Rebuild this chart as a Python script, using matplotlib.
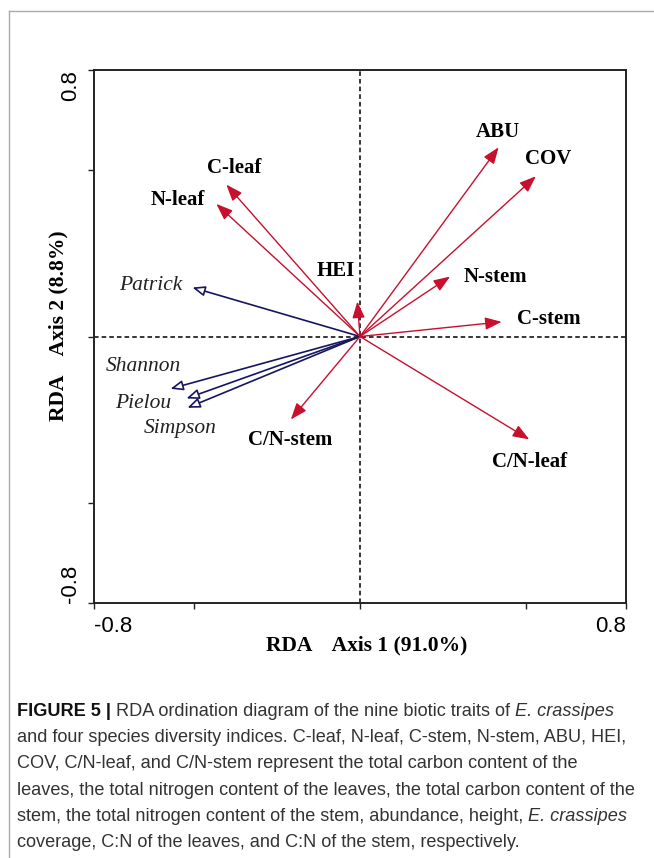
import numpy as np
import matplotlib
matplotlib.use('Agg')
from matplotlib import pyplot as plt
from matplotlib.lines import Line2D

# Biotic traits (response arrows, red)
traits = ['ABU', 'COV', 'C-leaf', 'N-leaf', 'HEI', 'N-stem', 'C-stem',
          'C/N-leaf', 'C/N-stem']
trait_ax1 = [0.417, 0.529, -0.402, -0.432, -0.008, 0.271, 0.426, 0.509, -0.208]
trait_ax2 = [0.568, 0.481, 0.456, 0.398, 0.105, 0.180, 0.044, -0.309, -0.249]

# Species diversity indices (explanatory arrows, blue)
indices = ['Patrick', 'Shannon', 'Pielou', 'Simpson']
index_ax1 = [-0.504, -0.570, -0.522, -0.519]
index_ax2 = [0.147, -0.157, -0.186, -0.214]

x_label = 'RDA    Axis 1 (91.0%)'
y_label = 'RDA    Axis 2 (8.8%)'

# label placement (layout only)
trait_label_pos = [(0.414, 0.615), (0.567, 0.534), (-0.377, 0.507),
                   (-0.549, 0.411), (-0.074, 0.197), (0.408, 0.179),
                   (0.567, 0.053), (0.510, -0.377), (-0.209, -0.311)]
index_label_pos = [(-0.630, 0.152), (-0.651, -0.089), (-0.651, -0.200),
                   (-0.542, -0.275)]

caption = [
    [('FIGURE 5 | ', 'normal', 'bold'),
     ('RDA ordination diagram of the nine biotic traits of ', 'normal', 'normal'),
     ('E. crassipes', 'italic', 'normal')],
    [('and four species diversity indices. C-leaf, N-leaf, C-stem, N-stem, ABU, HEI,', 'normal', 'normal')],
    [('COV, C/N-leaf, and C/N-stem represent the total carbon content of the', 'normal', 'normal')],
    [('leaves, the total nitrogen content of the leaves, the total carbon content of the', 'normal', 'normal')],
    [('stem, the total nitrogen content of the stem, abundance, height, ', 'normal', 'normal'),
     ('E. crassipes', 'italic', 'normal')],
    [('coverage, C:N of the leaves, and C:N of the stem, respectively.', 'normal', 'normal')],
]

W, H = 654, 858
red = '#C8102E'
navy = '#161660'
serif = ['Liberation Serif', 'DejaVu Serif']
sans = ['Liberation Sans', 'DejaVu Sans']

fig = plt.figure(figsize=(W / 100, H / 100), dpi=100)

# light grey frame of the figure panel (top and left edges)
fig.add_artist(Line2D([9 / W, 1], [1 - 11 / H, 1 - 11 / H], color='#aaaaaa', lw=1.0))
fig.add_artist(Line2D([9 / W, 9 / W], [0, 1 - 11 / H], color='#aaaaaa', lw=1.0))

ax = fig.add_axes([94 / W, 1 - 603 / H, 532 / W, 533 / H])
ax.set_xlim(-0.8, 0.8)
ax.set_ylim(-0.8, 0.8)
for s in ax.spines.values():
    s.set_linewidth(1.4)
    s.set_color('#222222')

ax.set_xticks([-0.8, -0.5, 0, 0.5, 0.8])
ax.set_yticks([-0.8, -0.5, 0, 0.5, 0.8])
ax.set_xticklabels([])
ax.set_yticklabels([])
ax.tick_params(direction='out', length=4, width=1.0, color='#222222')

# tick labels at the extremes only
ax.text(-0.8, -0.84, '-0.8', ha='left', va='top', fontsize=16, family=sans)
ax.text(0.8, -0.84, '0.8', ha='right', va='top', fontsize=16, family=sans)
ax.text(-0.84, 0.8, '0.8', ha='right', va='top', rotation=90, fontsize=16, family=sans)
ax.text(-0.84, -0.8, '-0.8', ha='right', va='bottom', rotation=90, fontsize=16, family=sans)

ax.axhline(0, color='black', lw=1.1, ls=(0, (3, 2)), zorder=1)
ax.axvline(0, color='black', lw=1.1, ls=(0, (3, 2)), zorder=1)

for name, x, y, (lx, ly) in zip(traits, trait_ax1, trait_ax2, trait_label_pos):
    ax.annotate('', xy=(x, y), xytext=(0, 0),
                arrowprops=dict(arrowstyle='-|>,head_length=1.0,head_width=0.38',
                                color=red, lw=1.0, shrinkA=0, shrinkB=0,
                                mutation_scale=10), zorder=3)
    ax.text(lx, ly, name, ha='center', va='center', fontsize=15,
            fontweight='bold', family=serif, color='black')

for name, x, y, (lx, ly) in zip(indices, index_ax1, index_ax2, index_label_pos):
    ax.annotate('', xy=(x, y), xytext=(0, 0),
                arrowprops=dict(arrowstyle='-|>,head_length=0.75,head_width=0.3',
                                ec=navy, fc='white', lw=1.2, shrinkA=0, shrinkB=0,
                                mutation_scale=10), zorder=2)
    ax.text(lx, ly, name, ha='center', va='center', fontsize=15.5,
            fontstyle='italic', family=serif, color='#222222')

fig.text(367 / W, 1 - 645 / H, x_label, ha='center', va='center', fontsize=15.5,
         fontweight='bold', family=serif)
fig.text(58 / W, 1 - 326 / H, y_label, ha='center', va='center', fontsize=15.5,
         fontweight='bold', family=serif, rotation=90)

# caption, drawn piece by piece so italic words sit inline;
# font size chosen so the widest line fits inside the panel
renderer = fig.canvas.get_renderer()
cap_size = 14
widest = 0
for line in caption:
    width = 0
    for txt, style, weight in line:
        t = fig.text(0, 0, txt, fontsize=cap_size, family=sans,
                     fontstyle=style, fontweight=weight)
        width += t.get_window_extent(renderer=renderer).width
        t.remove()
    widest = max(widest, width)
cap_size = cap_size * 622 / widest

line_y = 711
for line in caption:
    x0 = 17
    for txt, style, weight in line:
        t = fig.text(x0 / W, 1 - line_y / H, txt, ha='left', va='center',
                     fontsize=cap_size, family=sans, fontstyle=style,
                     fontweight=weight,
                     color='#111111' if weight == 'bold' else '#333333')
        x0 += t.get_window_extent(renderer=renderer).width
    line_y += 26.4

fig.savefig('out.png', dpi=100)
